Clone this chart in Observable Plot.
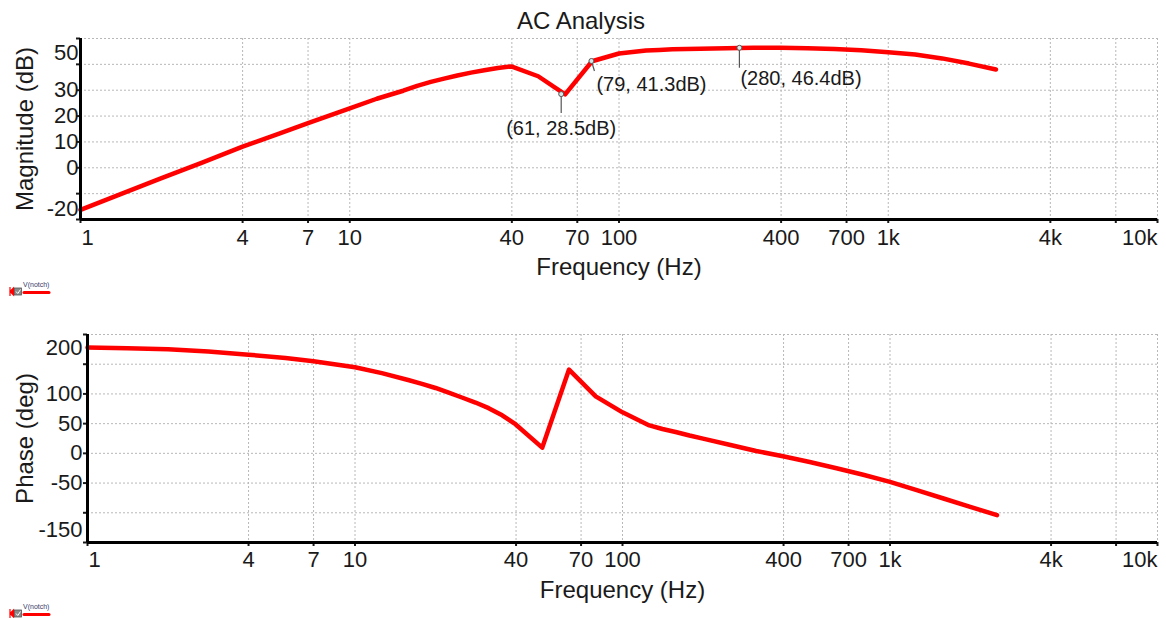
<!DOCTYPE html>
<html>
<head>
<meta charset="utf-8">
<script src="https://cdn.jsdelivr.net/npm/d3@7"></script>
<script src="https://cdn.jsdelivr.net/npm/@observablehq/plot@0.6"></script>
<style>
  body { margin: 0; background: #fff; font-family: "Liberation Sans", Arial, sans-serif; }
  #wrap { position: relative; width: 1166px; height: 618px; overflow: hidden; background: #fff; }
  #title { position: absolute; left: 0; top: 7px; width: 1162px; text-align: center; font-size: 24px; line-height: 28px; color: #1a1a1a; }
  .plot { position: absolute; left: 0; }
</style>
</head>
<body>
<div id="wrap">
  <div id="title">AC Analysis</div>
  <div id="p1" class="plot" style="top:28px"></div>
  <div id="p2" class="plot" style="top:324px"></div>
</div>
<script>
// ---- data ----
const freq = [1, 1.41, 2, 2.83, 4, 5.5, 7, 10, 12.6, 15.8, 17.8, 20, 22.4, 25.1, 28.2, 31.6, 35.5, 39.8, 50.1, 63.1, 79.4, 100, 126, 141, 158, 178, 200, 251, 316, 398, 501, 631, 794, 1000, 1259, 1585, 1995, 2512];
const magnitude = [-16.3, -10.2, -4.0, 2.0, 8.2, 13.3, 17.3, 23.0, 26.7, 29.8, 31.7, 33.2, 34.5, 35.7, 36.8, 37.7, 38.6, 39.2, 35.4, 28.4, 41.2, 44.2, 45.4, 45.6, 45.8, 45.9, 46.0, 46.2, 46.4, 46.4, 46.2, 45.9, 45.5, 44.7, 43.8, 42.3, 40.3, 38.0];
const phase = [178, 177, 175, 171.5, 166, 160.5, 155, 145, 135, 123.5, 117, 110, 102, 94, 85.5, 76, 64, 49, 9.6, 141, 96, 69, 47, 41, 36, 30, 24.7, 14.5, 4, -5, -14.6, -25, -36, -48, -62, -76, -90, -104];

const xTicks = [1, 4, 7, 10, 40, 70, 100, 400, 700, 1000, 4000, 7000, 10000];
const xTickLabels = ["1", "4", "7", "10", "40", "70", "100", "400", "700", "1k", "4k", "", "10k"];
const magTicks = [-20, -10, 0, 10, 20, 30, 40, 50];
const magTickLabels = ["-20", "", "0", "10", "20", "30", "", "50"];
const phaseTicks = [-150, -100, -50, 0, 50, 100, 150, 200];
const phaseTickLabels = ["-150", "", "-50", "0", "50", "100", "", "200"];

const annFreq = [61, 79, 280];
const annDb = [28.5, 41.3, 46.4];
const annLabels = ["(61, 28.5dB)", "(79, 41.3dB)", "(280, 46.4dB)"];

const seriesName = "V(notch)";

// ---- helpers ----
const FONT = '"Liberation Sans", Arial, sans-serif';
const RED = "#ff0000";
const INK = "#1a1a1a";
const xLab = d => xTickLabels[xTicks.indexOf(d)];

function makePlot(cfg) {
  const {height, marginLeft, marginTop, marginBottom, yDomain, yTicks, yTickLabels, ylabel, values, yPad, xLabDy, titleDy, edgeDyTop, edgeDyBottom, extra} = cfg;
  const data = freq.map((f, i) => ({f, v: values[i]}));
  const yLab = d => yTickLabels[yTicks.indexOf(d)];
  const yFirst = yTicks[0], yLast = yTicks[yTicks.length - 1];
  const xFirst = xTicks[0], xLast = xTicks[xTicks.length - 1];
  const xMid = xTicks.filter(d => d !== xFirst && d !== xLast);
  const gridStyle = {stroke: "#b8b8b8", strokeOpacity: 1, strokeWidth: 1, strokeDasharray: "2,2"};
  return Plot.plot({
    width: 1166, height, marginLeft, marginRight: 9, marginTop, marginBottom,
    style: {fontFamily: FONT, fontSize: "22px", color: INK, background: "transparent", overflow: "visible"},
    x: {type: "log", domain: [1, 10000]},
    y: {domain: yDomain},
    marks: [
      Plot.gridX(xTicks, gridStyle),
      Plot.gridY(yTicks, gridStyle),
      Plot.line(data, {x: "f", y: "v", stroke: RED, strokeWidth: 4.5, strokeLinecap: "round", strokeLinejoin: "round"}),
      ...(extra || []),
      // x tick marks (labels drawn as text below)
      Plot.axisX(xTicks, {tickSize: 4, strokeWidth: 2, label: null, tickFormat: () => ""}),
      Plot.text(xMid, {x: d => d, text: xLab, frameAnchor: "bottom", lineAnchor: "top", dy: xLabDy, fontSize: 22, fill: INK}),
      Plot.text([xFirst], {x: d => d, text: xLab, frameAnchor: "bottom", lineAnchor: "top", textAnchor: "start", dy: xLabDy, dx: 1, fontSize: 22, fill: INK}),
      Plot.text([xLast], {x: d => d, text: xLab, frameAnchor: "bottom", lineAnchor: "top", textAnchor: "end", dy: xLabDy, fontSize: 22, fill: INK}),
      // y ticks and labels
      Plot.axisY(yTicks, {tickSize: 4, strokeWidth: 2, tickPadding: yPad, fontSize: 22, label: null,
        tickFormat: d => (d === yFirst || d === yLast) ? "" : yLab(d)}),
      Plot.axisY([yLast], {tickSize: 0, tickPadding: yPad + 4, dy: edgeDyTop, fontSize: 22, label: null, tickFormat: yLab}),
      Plot.axisY([yFirst], {tickSize: 0, tickPadding: yPad + 4, dy: edgeDyBottom, fontSize: 22, label: null, tickFormat: yLab}),
      // axis lines
      Plot.ruleY([yDomain[0]], {stroke: "#000", strokeWidth: 3}),
      Plot.ruleX([1], {stroke: "#000", strokeWidth: 3}),
      // axis titles
      Plot.text(["Frequency (Hz)"], {frameAnchor: "bottom", lineAnchor: "middle", textAnchor: "middle", dy: titleDy, fontSize: 24, fill: INK}),
      Plot.text([ylabel], {frameAnchor: "left", lineAnchor: "middle", textAnchor: "middle", dx: -(marginLeft - 25), rotate: -90, fontSize: 24, fill: INK})
    ]
  });
}

// annotation marks (magnitude plot)
const pxPerDb = (252 - 10 - 61) / 70;
const pxPerDecade = (1166 - 80 - 9) / 4;
const annIdx = annFreq.map((_, i) => i);
const leadLen = [19, 10, 20];
const leadDx = [0, 3, 0];
const labDx = [0, 5, 1];
const labDy = [35, 24, 31];
const labAnchor = ["middle", "start", "start"];
const annMarks = [
  Plot.link(annIdx, {
    x1: i => annFreq[i], y1: i => annDb[i],
    x2: i => annFreq[i] * Math.pow(10, leadDx[i] / pxPerDecade), y2: i => annDb[i] - leadLen[i] / pxPerDb,
    stroke: "#555", strokeWidth: 1.2
  }),
  Plot.dot(annIdx, {x: i => annFreq[i], y: i => annDb[i], r: 2.5, stroke: "#555", fill: "#d8e8e8", strokeWidth: 1}),
  ...annIdx.map(i => Plot.text([i], {
    x: () => annFreq[i], y: () => annDb[i], text: () => annLabels[i],
    dx: labDx[i], dy: labDy[i], textAnchor: labAnchor[i], fontSize: 20, fill: INK
  }))
];

const p1 = makePlot({
  height: 252, marginLeft: 80, marginTop: 10, marginBottom: 61,
  yDomain: [-20, 50], yTicks: magTicks, yTickLabels: magTickLabels,
  ylabel: "Magnitude (dB)", values: magnitude, yPad: -2, xLabDy: 10, titleDy: 48,
  edgeDyTop: 14, edgeDyBottom: -11, extra: annMarks
});
document.getElementById("p1").appendChild(p1);

const p2 = makePlot({
  height: 280, marginLeft: 87, marginTop: 10, marginBottom: 62,
  yDomain: [-150, 200], yTicks: phaseTicks, yTickLabels: phaseTickLabels,
  ylabel: "Phase (deg)", values: phase, yPad: 1, xLabDy: 9, titleDy: 48,
  edgeDyTop: 13, edgeDyBottom: -13
});
document.getElementById("p2").appendChild(p2);

// legends (series key under each plot)
function legend(top) {
  const svg = d3.create("svg").attr("width", 48).attr("height", 17)
    .style("top", top + "px").style("position", "absolute").style("left", "8px");
  svg.append("path").attr("d", "M2,6 L2,15 M2,10.5 L5.5,7 L5.5,14 Z").attr("fill", RED).attr("stroke", RED).attr("stroke-width", 1.2);
  svg.append("rect").attr("x", 6.5).attr("y", 7).attr("width", 7).attr("height", 7).attr("fill", "#8a8a8a").attr("stroke", "#555").attr("stroke-width", 0.8);
  svg.append("path").attr("d", "M8,10.5 l1.8,2 l2.7,-4").attr("stroke", "#fff").attr("fill", "none").attr("stroke-width", 1);
  svg.append("text").attr("x", 15).attr("y", 5.5).attr("font-size", 7).attr("font-family", FONT).attr("fill", "#3a3a6a").text(seriesName);
  svg.append("line").attr("x1", 16).attr("y1", 11.5).attr("x2", 41).attr("y2", 11.5).attr("stroke", RED).attr("stroke-width", 3).attr("stroke-linecap", "round");
  document.getElementById("wrap").appendChild(svg.node());
}
legend(281);
legend(603);
</script>
</body>
</html>
